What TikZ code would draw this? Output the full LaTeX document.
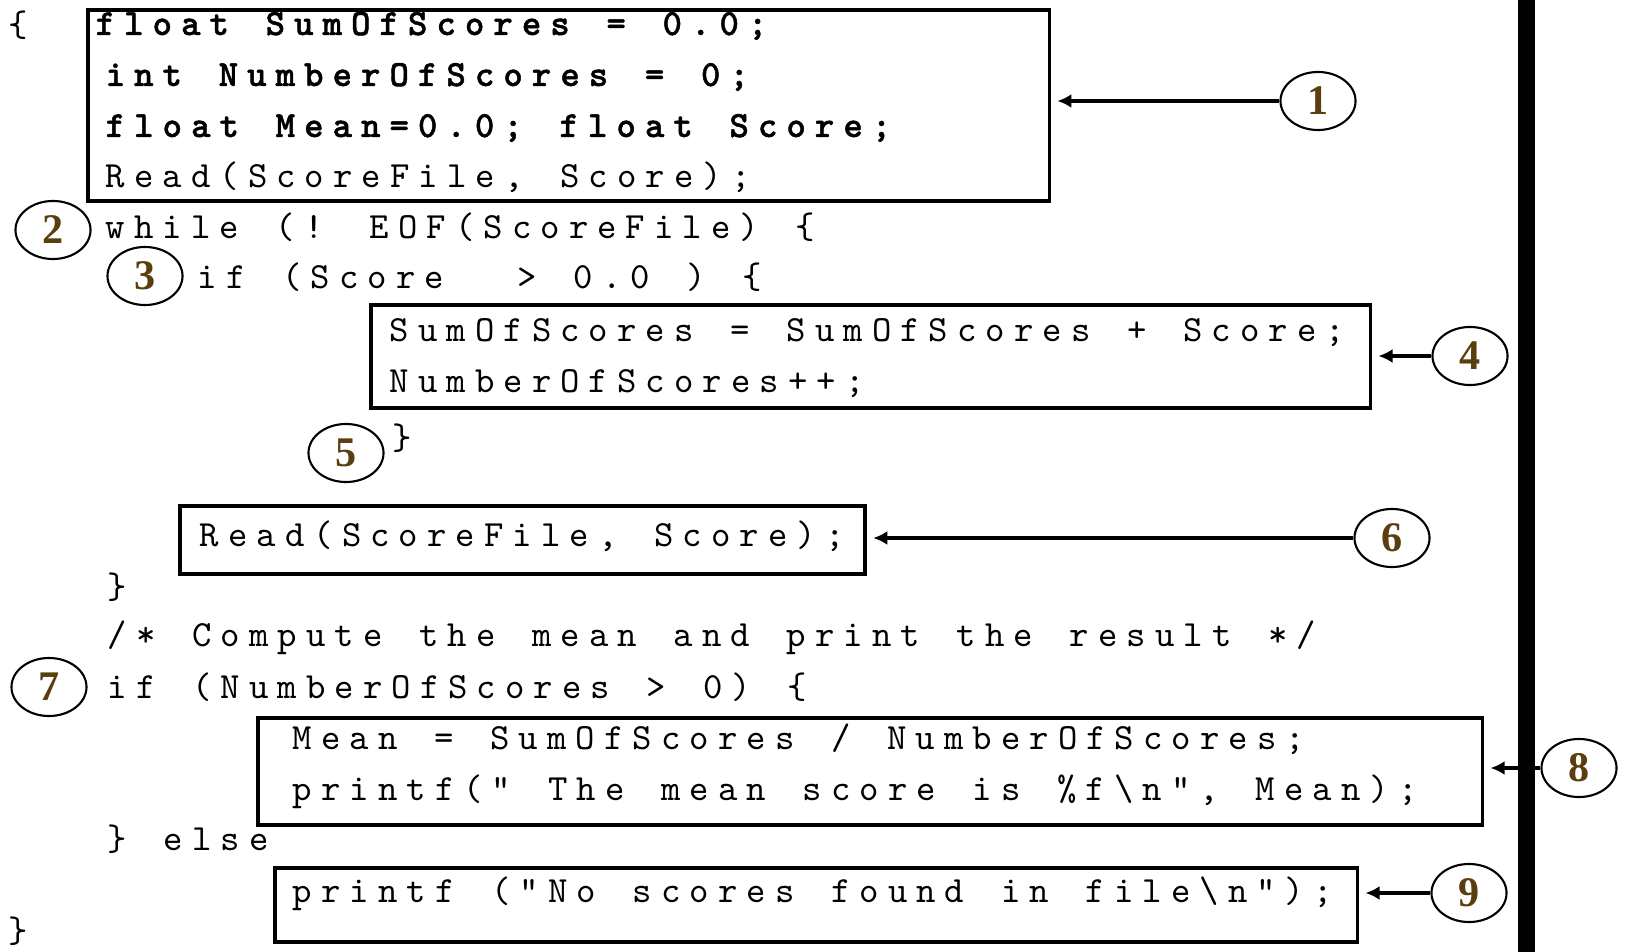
\documentclass[tikz,border=0pt]{standalone}
\usepackage{fontspec}
\setmainfont{Liberation Serif}
\newfontfamily\codefont{lmmono10-regular.otf}[BoldFont=lmmonolt10-bold.otf, BoldFeatures={FakeBold=1.2}, LetterSpace=24.6, WordSpace=1.29]
\usepackage{xcolor}
\usetikzlibrary{arrows.meta}
\usetikzlibrary{shapes.geometric}
\usetikzlibrary{math}
\definecolor{numbrown}{RGB}{90,62,14}

\begin{document}
\begin{tikzpicture}[x=0.01cm, y=-0.01cm,
  code/.style={anchor=base west, inner sep=0pt, font=\codefont\fontsize{10.5}{13}\selectfont},
  codebox/.style={draw, line width=1pt, anchor=north west, inner sep=0pt},
  num/.style={ellipse, draw, line width=0.6pt, minimum width=0.75cm, minimum height=0.58cm, inner sep=0pt, text=numbrown, font=\fontsize{12}{12}\selectfont\bfseries},
  ptr/.style={-{Latex[length=4pt,width=4pt]}, line width=1pt, shorten >=1.8pt}]
\tikzmath{
\ind=105;
\sub=107;
\lh=51;
}
\useasboundingbox (0,0) rectangle (1628,952);
%bar
\fill (1518,0) rectangle (1535,952);
%boxes
\node[codebox, minimum width=9.61cm, minimum height=1.91cm] (b1) at (86,8) {};
\node[codebox, minimum width=9.99cm, minimum height=1.03cm] (b4) at (369,303) {};
\node[codebox, minimum width=6.85cm, minimum height=0.68cm] (b6) at (178,504) {};
\node[codebox, minimum width=12.24cm, minimum height=1.07cm] (b8) at (256,716) {};
\node[codebox, minimum width=10.82cm, minimum height=0.74cm] (b9) at (273,866) {};

%code
\node[code] (open) at (8,37) {\{};
\node[code] (l1) at (95,35) {\bfseries float SumOfScores = 0.0;};
\node[code] (l2) at (\ind,35+\lh) {\bfseries int NumberOfScores = 0;};
\node[code] (l3) at (\ind,35+2*\lh) {\bfseries float Mean=0.0; float Score;};
\node[code] (l4) at (\ind,35+3*\lh) {Read(ScoreFile, Score);};
\node[code] (while) at (\ind,239) {while (! EOF(ScoreFile) \{};
\node[code] (if1) at (197,289) {if (Score\ \ > 0.0 ) \{};
\node[code] (sum) at (389,342) {SumOfScores = SumOfScores + Score;};
\node[code] (count) at (389,342+\lh) {NumberOfScores++;};
\node[code] (close1) at (392,449) {\}};
\node[code] (read) at (199,546) {Read(ScoreFile, Score);};
\node[code] (close2) at (\sub,598) {\}};
\node[code] (comment) at (\sub,646) {/* Compute the mean and print the result */};
\node[code] (if2) at (\sub,698) {if (NumberOfScores > 0) \{};
\node[code] (mean) at (292,749) {Mean = SumOfScores / NumberOfScores;};
\node[code] (print1) at (292,749+\lh) {printf(“ The mean score is \%f\textbackslash n”, Mean);};
\node[code] (else) at (\sub,850) {\} else};
\node[code] (print2) at (292,902) {printf (“No scores found in file\textbackslash n”);};
\node[code] (close3) at (8,942) {\}};

%numbers
\node[num] (c1) at (1318,101) {1};
\node[num] (c2) at (53,230) {2};
\node[num] (c3) at (145,276) {3};
\node[num] (c4) at (1470,356) {4};
\node[num] (c5) at (346,453) {5};
\node[num] (c6) at (1392,538) {6};
\node[num] (c7) at (49,687) {7};
\node[num] (c8) at (1579,768) {8};
\node[num] (c9) at (1469,893) {9};

%pointers
\draw[ptr] (c1.west) -- (c1.west -| b1.east);
\draw[ptr] (c4.west) -- (c4.west -| b4.east);
\draw[ptr] (c6.west) -- (c6.west -| b6.east);
\draw[ptr] (c8.west) -- (c8.west -| b8.east);
\draw[ptr] (c9.west) -- (c9.west -| b9.east);
\end{tikzpicture}
\end{document}
